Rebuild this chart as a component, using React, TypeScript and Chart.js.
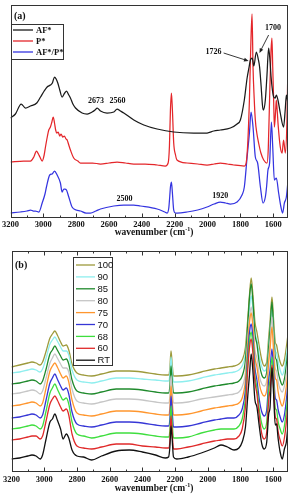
import { useEffect, useRef } from "react";
import { Chart, registerables } from "chart.js";

Chart.register(...registerables);

// ---------- Panel (a): AF*, P* and the AF*/P* blend ----------
const afWavenumber = [
  3200, 3170, 3135, 3109, 3078, 3040, 3017, 2995, 2977, 2957, 2945, 2932, 2922, 2912, 2900, 2886,
  2870, 2859, 2845, 2835, 2820, 2804, 2764, 2733, 2703, 2685, 2672, 2652, 2612, 2571, 2551, 2530,
  2510, 2449, 2388, 2307, 2206, 2084, 2003, 1962, 1922, 1861, 1820, 1800, 1776, 1759, 1747, 1739,
  1728, 1718, 1703, 1690, 1683, 1675, 1665, 1660, 1648, 1638, 1628, 1620, 1613, 1605, 1597, 1588,
  1581, 1570, 1557, 1537, 1527, 1520, 1508,
];
const afAbsorbance = [
  100, 104, 114, 110, 112, 115, 121, 127, 131, 133, 135, 141, 139, 135, 128, 121,
  125, 127, 123, 120, 114, 110, 105, 104, 106, 108, 110, 107, 105, 106, 109, 107,
  105, 98, 93, 89, 86, 85, 85, 87, 88, 90, 94, 98, 118, 140, 151, 158,
  160, 152, 166, 158, 151, 135, 112, 108, 118, 143, 170, 158, 141, 128, 121, 120,
  123, 117, 105, 91, 108, 123, 111,
];

const pWavenumber = [
  3200, 3120, 3078, 3058, 3042, 3030, 3021, 3007, 2995, 2987, 2975, 2967, 2957, 2948, 2940, 2932,
  2925, 2918, 2910, 2900, 2892, 2882, 2872, 2862, 2855, 2845, 2835, 2815, 2790, 2774, 2700, 2652,
  2600, 2551, 2500, 2449, 2380, 2307, 2257, 2240, 2232, 2226, 2220, 2214, 2206, 2195, 2186, 2125,
  2060, 2003, 1960, 1922, 1880, 1841, 1776, 1765, 1755, 1745, 1737, 1729, 1723, 1716, 1709, 1700,
  1689, 1675, 1658, 1638, 1630, 1622, 1614, 1608, 1603, 1597, 1593, 1585, 1581, 1576, 1570, 1557,
  1546, 1537, 1526, 1516, 1512, 1506,
];
const pAbsorbance = [
  56, 57, 57, 61, 67, 64, 61, 57, 63, 71, 82, 88, 91, 96, 101, 95,
  88, 85, 86, 82, 84, 81, 82, 79, 78, 73, 68, 60, 57, 55, 55, 54,
  55, 56, 55, 54, 54, 53, 52, 55, 72, 108, 125, 108, 75, 63, 58, 55,
  54, 53, 54, 55, 54, 53, 52, 55, 75, 118, 170, 204, 151, 120, 98, 85,
  75, 65, 58, 55, 70, 120, 165, 180, 151, 115, 91, 108, 118, 108, 93, 71,
  65, 78, 65, 100, 138, 148,
];

const blendWavenumber = [
  3200, 3139, 3100, 3078, 3060, 3048, 3027, 3007, 2990, 2981, 2961, 2946, 2932, 2916, 2896, 2886,
  2875, 2869, 2859, 2845, 2825, 2800, 2774, 2740, 2713, 2680, 2652, 2571, 2510, 2450, 2409, 2307,
  2260, 2246, 2236, 2230, 2226, 2220, 2214, 2206, 2195, 2186, 2125, 2060, 2003, 1960, 1922, 1890,
  1861, 1820, 1790, 1776, 1759, 1745, 1735, 1723, 1709, 1695, 1678, 1662, 1648, 1640, 1632, 1622,
  1611, 1603, 1593, 1581, 1567, 1553, 1543, 1532, 1520, 1508,
];
const blendAbsorbance = [
  5, 6, 7, 8, 7, 7, 6, 15, 24, 31, 43, 44, 47, 43, 35, 26,
  29, 29, 28, 21, 11, 8, 7, 5, 5, 7, 9, 12, 13, 13, 12, 9,
  6, 5, 10, 22, 31, 36, 25, 8, 5, 5, 6, 8, 11, 14, 16, 15,
  14, 16, 23, 31, 61, 85, 106, 91, 61, 55, 31, 15, 21, 32, 48, 55,
  96, 71, 38, 40, 25, 11, 5, 15, 21, 41,
];

const panelALabels = ["AF*", "P*", "AF*/P*"];
const panelAColors = ["#1a1a1a", "#e4262a", "#3434e0"];

// wavenumber labels written on panel (a)
const noteTexts = ["2673", "2560", "2500", "1920", "1726", "1700"];
const noteWavenumbers = [2680, 2548, 2505, 1922, 1963, 1601];
const noteHeights = [117, 117, 19, 22, 166, 190];

// ---------- Panel (b): AF*/P* spectra at increasing temperature ----------
const tempWavenumber = [
  3200, 3150, 3100, 3075, 3050, 3025, 3010, 2990,
  2965, 2950, 2935, 2920, 2900, 2885, 2865, 2850,
  2830, 2800, 2760, 2710, 2650, 2560, 2480, 2400,
  2320, 2260, 2240, 2232, 2225, 2218, 2210, 2190,
  2120, 2040, 1960, 1920, 1880, 1840, 1810, 1790,
  1770, 1755, 1745, 1735, 1725, 1712, 1700, 1685,
  1670, 1655, 1640, 1628, 1620, 1608, 1598, 1588,
  1580, 1570, 1558, 1545, 1532, 1520, 1508, 1500,
];
const spectrum100 = [
  105, 107, 109, 110, 109, 107, 110, 120,
  134, 138, 141, 137, 130, 126, 127, 122,
  108, 99, 97, 96, 98, 101, 101, 100,
  98, 97, 97, 104, 121, 108, 96, 96,
  97, 100, 103, 104, 105, 106, 108, 112,
  125, 155, 178, 194, 178, 150, 140, 125,
  112, 106, 110, 135, 150, 175, 152, 130,
  127, 118, 110, 106, 112, 125, 140, 148,
];
const spectrum90 = [
  99, 100, 102, 103, 102, 100, 103, 113,
  128, 132, 135, 131, 125, 121, 121, 117,
  102, 92, 90, 89, 91, 94, 94, 93,
  92, 91, 91, 98, 115, 102, 90, 90,
  91, 94, 97, 98, 99, 100, 102, 106,
  118, 145, 165, 176, 165, 140, 132, 116,
  105, 101, 104, 128, 142, 165, 143, 122,
  119, 110, 102, 97, 103, 116, 132, 140,
];
const spectrum85 = [
  88, 89, 91, 92, 91, 88, 91, 102,
  118, 122, 126, 122, 116, 112, 113, 108,
  92, 81, 79, 78, 80, 83, 83, 82,
  80, 79, 79, 86, 106, 92, 79, 79,
  80, 83, 86, 87, 88, 89, 91, 96,
  112, 150, 175, 188, 172, 138, 128, 108,
  97, 94, 100, 125, 142, 170, 142, 115,
  112, 100, 92, 87, 93, 107, 125, 133,
];
const spectrum80 = [
  78, 79, 81, 82, 81, 78, 81, 93,
  109, 114, 118, 114, 108, 104, 104, 100,
  83, 71, 69, 68, 70, 73, 73, 72,
  70, 69, 69, 76, 96, 82, 69, 69,
  70, 73, 75, 76, 77, 78, 80, 85,
  100, 135, 155, 165, 152, 122, 114, 96,
  88, 86, 92, 115, 130, 155, 130, 104,
  101, 90, 83, 80, 86, 98, 115, 123,
];
const spectrum75 = [
  66, 67, 69, 70, 69, 66, 69, 83,
  101, 106, 109, 105, 98, 94, 96, 90,
  72, 59, 57, 56, 58, 61, 61, 60,
  58, 57, 57, 64, 86, 72, 57, 57,
  58, 61, 64, 65, 66, 67, 69, 74,
  92, 130, 150, 159, 146, 115, 105, 88,
  79, 76, 82, 110, 122, 145, 120, 94,
  92, 80, 71, 66, 73, 86, 104, 113,
];
const spectrum70 = [
  54, 55, 57, 58, 57, 54, 57, 71,
  89, 94, 98, 93, 86, 82, 84, 78,
  60, 48, 46, 45, 47, 50, 50, 49,
  47, 46, 46, 53, 76, 61, 45, 45,
  46, 49, 52, 53, 54, 54, 57, 63,
  82, 120, 140, 148, 135, 104, 92, 72,
  60, 56, 62, 92, 102, 123, 100, 74,
  72, 62, 55, 50, 57, 72, 92, 102,
];
const spectrum68 = [
  43, 44, 46, 47, 46, 43, 46, 60,
  79, 84, 88, 83, 76, 72, 74, 68,
  50, 38, 36, 34, 36, 39, 39, 38,
  36, 35, 35, 42, 66, 50, 34, 34,
  35, 39, 42, 43, 43, 43, 46, 53,
  74, 112, 132, 140, 127, 96, 84, 62,
  48, 43, 50, 82, 92, 115, 92, 64,
  62, 50, 43, 38, 46, 62, 82, 92,
];
const spectrum60 = [
  32, 33, 35, 36, 36, 33, 36, 50,
  68, 73, 76, 72, 65, 61, 63, 57,
  38, 26, 24, 23, 25, 28, 28, 26,
  25, 24, 24, 31, 56, 40, 23, 23,
  25, 28, 31, 32, 33, 33, 36, 43,
  65, 105, 125, 133, 120, 90, 78, 55,
  38, 33, 40, 72, 82, 107, 84, 55,
  53, 40, 32, 26, 34, 50, 72, 82,
];
const spectrumRT = [
  13, 14, 16, 17, 16, 13, 17, 32,
  50, 53, 58, 52, 43, 33, 38, 34,
  22, 16, 15, 12, 16, 21, 22, 20,
  17, 14, 15, 25, 46, 33, 15, 13,
  15, 19, 24, 27, 25, 22, 24, 30,
  45, 78, 98, 118, 102, 72, 65, 45,
  28, 23, 30, 58, 64, 104, 78, 47,
  48, 33, 20, 13, 23, 30, 50, 58,
];

const tempLabels = ["100", "90", "85", "80", "75", "70", "68", "60", "RT"];
const tempSpectra = [
  spectrum100, spectrum90, spectrum85, spectrum80, spectrum75,
  spectrum70, spectrum68, spectrum60, spectrumRT,
];
const tempColors = [
  "#9d9a3c", "#8eeeee", "#1f8a2c", "#c6c6c6", "#ff962e",
  "#3636d6", "#3ede3e", "#e02a2a", "#111111",
];

const xTickValues = [3200, 3000, 2800, 2600, 2400, 2200, 2000, 1800, 1600];
const X_LOW = 1510;
const X_HIGH = 3200;

const SERIF = "'Liberation Serif', 'Times New Roman', serif";
const SANS = "'Liberation Sans', Arial, sans-serif";

const toPoints = (xs: number[], ys: number[]) => xs.map((x, i) => ({ x, y: ys[i] }));

type LegendRow = { label: string; color: string };
type DecorOptions = {
  panelLabel: string;
  panelLabelX: number;
  panelLabelY: number;
  titleY: number;
  topTicks: boolean;
  legend: {
    box: [number, number, number, number];
    firstRowY: number;
    rowStep: number;
    lineX: [number, number];
    textX: number;
    font: string;
    rows: LegendRow[];
  };
  notes?: { text: string; x: number; y: number }[];
  arrows?: { from: [number, number]; to: [number, number] }[];
};

function drawArrow(ctx: CanvasRenderingContext2D, x1: number, y1: number, x2: number, y2: number) {
  const ang = Math.atan2(y2 - y1, x2 - x1);
  const head = 5;
  ctx.beginPath();
  ctx.moveTo(x1, y1);
  ctx.lineTo(x2 - Math.cos(ang) * 3, y2 - Math.sin(ang) * 3);
  ctx.stroke();
  ctx.beginPath();
  ctx.moveTo(x2, y2);
  ctx.lineTo(x2 - head * Math.cos(ang - 0.4), y2 - head * Math.sin(ang - 0.4));
  ctx.lineTo(x2 - head * Math.cos(ang + 0.4), y2 - head * Math.sin(ang + 0.4));
  ctx.closePath();
  ctx.fill();
}

function decorPlugin(o: DecorOptions) {
  return {
    id: "panelDecor",
    afterDraw(chart: any) {
      const { ctx, chartArea: a, scales } = chart;
      const xs = scales.x;
      const ys = scales.y;
      ctx.save();

      // frame
      ctx.strokeStyle = "#333";
      ctx.lineWidth = 1;
      const l = Math.round(a.left) + 0.5;
      const t = Math.round(a.top) + 0.5;
      const r = Math.round(a.right) - 0.5;
      const b = Math.round(a.bottom) - 0.5;
      ctx.strokeRect(l, t, r - l, b - t);

      // inward tick marks, major every 200, minor every 100
      for (let v = 1600; v <= 3200; v += 100) {
        const px = Math.round(xs.getPixelForValue(v)) + 0.5;
        const len = v % 200 === 0 ? 4 : 2;
        ctx.beginPath();
        ctx.moveTo(px, b);
        ctx.lineTo(px, b - len);
        if (o.topTicks) {
          ctx.moveTo(px, t);
          ctx.lineTo(px, t + len);
        }
        ctx.stroke();
      }

      // axis title with superscript
      ctx.fillStyle = "#111";
      ctx.textBaseline = "alphabetic";
      const mainFont = `bold 9.5px ${SERIF}`;
      const supFont = `bold 6px ${SERIF}`;
      ctx.font = mainFont;
      const p1 = "wavenumber (cm";
      const w1 = ctx.measureText(p1).width;
      const wClose = ctx.measureText(")").width;
      ctx.font = supFont;
      const wSup = ctx.measureText("-1").width;
      const total = w1 + wSup + wClose;
      let tx = 154 - total / 2;
      const baseY = o.titleY + 3;
      ctx.font = mainFont;
      ctx.textAlign = "left";
      ctx.fillText(p1, tx, baseY);
      tx += w1;
      ctx.font = supFont;
      ctx.fillText("-1", tx, baseY - 4);
      tx += wSup;
      ctx.font = mainFont;
      ctx.fillText(")", tx, baseY);

      // panel label
      ctx.font = `bold 10px ${SERIF}`;
      ctx.textAlign = "left";
      ctx.textBaseline = "middle";
      ctx.fillText(o.panelLabel, o.panelLabelX, o.panelLabelY);

      // notes and arrows
      if (o.notes) {
        ctx.font = `bold 8px ${SERIF}`;
        ctx.textAlign = "center";
        ctx.textBaseline = "middle";
        o.notes.forEach((n) => {
          ctx.fillText(n.text, xs.getPixelForValue(n.x), ys.getPixelForValue(n.y));
        });
      }
      if (o.arrows) {
        ctx.strokeStyle = "#222";
        ctx.fillStyle = "#222";
        ctx.lineWidth = 0.9;
        o.arrows.forEach((ar) => {
          drawArrow(
            ctx,
            xs.getPixelForValue(ar.from[0]), ys.getPixelForValue(ar.from[1]),
            xs.getPixelForValue(ar.to[0]), ys.getPixelForValue(ar.to[1]),
          );
        });
      }

      // legend
      const lg = o.legend;
      ctx.fillStyle = "#fff";
      ctx.fillRect(lg.box[0], lg.box[1], lg.box[2], lg.box[3]);
      ctx.strokeStyle = "#333";
      ctx.lineWidth = 1;
      ctx.strokeRect(lg.box[0] + 0.5, lg.box[1] + 0.5, lg.box[2], lg.box[3]);
      ctx.font = lg.font;
      ctx.textAlign = "left";
      ctx.textBaseline = "middle";
      lg.rows.forEach((row, i) => {
        const y = lg.firstRowY + i * lg.rowStep;
        ctx.strokeStyle = row.color;
        ctx.lineWidth = 1.3;
        ctx.beginPath();
        ctx.moveTo(lg.lineX[0], y);
        ctx.lineTo(lg.lineX[1], y);
        ctx.stroke();
        ctx.fillStyle = "#111";
        ctx.fillText(row.label, lg.textX, y + 0.5);
      });

      ctx.restore();
    },
  };
}

function xScale(height: number, padding: number) {
  return {
    type: "linear" as const,
    min: X_LOW,
    max: X_HIGH,
    reverse: true,
    afterBuildTicks: (s: any) => {
      s.ticks = xTickValues.map((value) => ({ value }));
    },
    afterFit: (s: any) => {
      s.height = height;
    },
    ticks: {
      autoSkip: false,
      maxRotation: 0,
      padding,
      color: "#111",
      callback: (v: number | string) => String(v),
      font: { family: SERIF, size: 8.5, weight: "bold" as const },
    },
    grid: { display: false, drawTicks: false },
    border: { display: false },
  };
}

function buildPanelA(canvas: HTMLCanvasElement) {
  const series = [
    toPoints(afWavenumber, afAbsorbance),
    toPoints(pWavenumber, pAbsorbance),
    toPoints(blendWavenumber, blendAbsorbance),
  ];
  return new Chart(canvas, {
    type: "line",
    data: {
      datasets: series.map((data, i) => ({
        label: panelALabels[i],
        data,
        borderColor: panelAColors[i],
        borderWidth: 1.25,
        pointRadius: 0,
        fill: false,
        cubicInterpolationMode: "monotone" as const,
      })),
    },
    options: {
      animation: false,
      responsive: false,
      events: [],
      layout: { padding: { top: 5, left: 10, right: 1, bottom: 0 } },
      plugins: { legend: { display: false }, tooltip: { enabled: false } },
      scales: {
        x: xScale(27, 2),
        y: { display: false, min: 0, max: 213 },
      },
    },
    plugins: [
      decorPlugin({
        panelLabel: "(a)",
        panelLabelX: 14,
        panelLabelY: 16,
        titleY: 232,
        topTicks: false,
        legend: {
          box: [11, 24, 52, 35],
          firstRowY: 30,
          rowStep: 11,
          lineX: [13, 33],
          textX: 36,
          font: `bold 8.5px ${SERIF}`,
          rows: panelALabels.map((label, i) => ({ label, color: panelAColors[i] })),
        },
        notes: noteTexts.map((text, i) => ({ text, x: noteWavenumbers[i], y: noteHeights[i] })),
        arrows: [
          { from: [1902, 165], to: [1750, 157] },
          { from: [1628, 183], to: [1684, 165] },
        ],
      }),
    ],
  } as any);
}

function buildPanelB(canvas: HTMLCanvasElement) {
  // draw from RT upward so the hottest spectrum sits on top
  const order = [8, 7, 6, 5, 4, 3, 2, 1, 0];
  return new Chart(canvas, {
    type: "line",
    data: {
      datasets: order.map((k) => ({
        label: tempLabels[k],
        data: toPoints(tempWavenumber, tempSpectra[k]),
        borderColor: tempColors[k],
        borderWidth: 1.3,
        pointRadius: 0,
        fill: false,
        cubicInterpolationMode: "monotone" as const,
      })),
    },
    options: {
      animation: false,
      responsive: false,
      events: [],
      layout: { padding: { top: 6, left: 10, right: 1, bottom: 0 } },
      plugins: { legend: { display: false }, tooltip: { enabled: false } },
      scales: {
        x: xScale(26, 3),
        y: { display: false, min: 0, max: 221 },
      },
    },
    plugins: [
      decorPlugin({
        panelLabel: "(b)",
        panelLabelX: 15,
        panelLabelY: 20,
        titleY: 243,
        topTicks: true,
        legend: {
          box: [73, 12, 39, 108],
          firstRowY: 20,
          rowStep: 11.9,
          lineX: [76, 95],
          textX: 97.5,
          font: `9.5px ${SANS}`,
          rows: tempLabels.map((label, i) => ({ label, color: tempColors[i] })),
        },
      }),
    ],
  } as any);
}

export default function App() {
  const refA = useRef<HTMLCanvasElement>(null);
  const refB = useRef<HTMLCanvasElement>(null);

  useEffect(() => {
    document.body.style.margin = "0";
    const a = buildPanelA(refA.current as HTMLCanvasElement);
    const b = buildPanelB(refB.current as HTMLCanvasElement);
    return () => {
      a.destroy();
      b.destroy();
    };
  }, []);

  return (
    <div style={{ width: 289, height: 498, background: "#fff" }}>
      <canvas ref={refA} width={289} height={245} style={{ display: "block" }} />
      <canvas ref={refB} width={289} height={253} style={{ display: "block" }} />
    </div>
  );
}
